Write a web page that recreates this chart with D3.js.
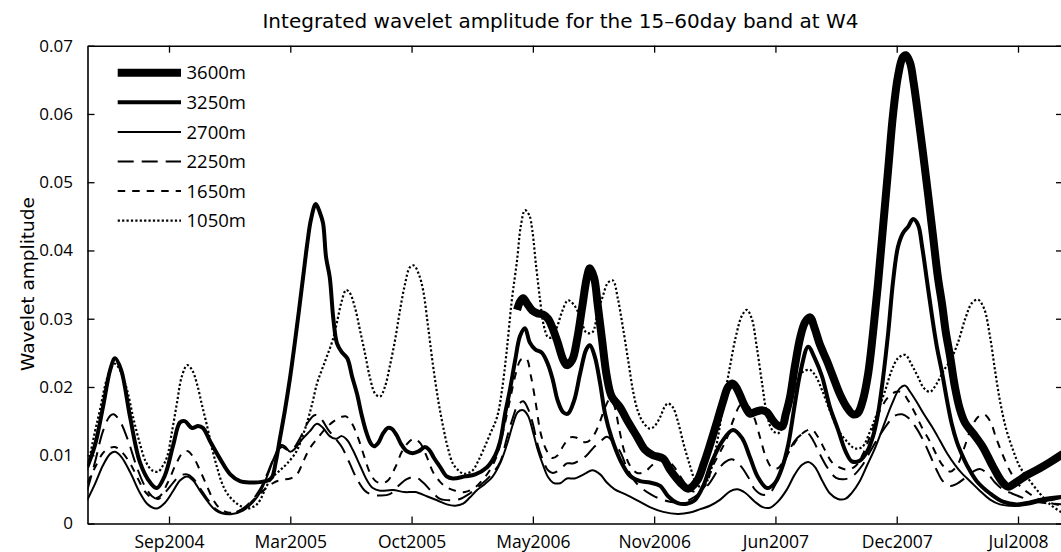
<!DOCTYPE html>
<html>
<head>
<meta charset="utf-8">
<script src="https://cdn.jsdelivr.net/npm/d3@7"></script>
<style>
  body { margin: 0; background: #fff; }
  text { font-family: "Open Sans", sans-serif; fill: #000; }
</style>
</head>
<body>
<svg id="chart" width="1061" height="552"></svg>
<script>
// Integrated wavelet amplitude (15–60 day band) at mooring W4, one series per instrument depth.
// Time axis: days since 1 Jan 2004.
const dayStart = 118.6, dayEnd = 1727.2;
const tickDays = [253, 453, 653, 853, 1053, 1253, 1453, 1653];
const tickLabels = ["Sep2004", "Mar2005", "Oct2005", "May2006", "Nov2006", "Jun2007", "Dec2007", "Jul2008"];
const yTicks = [0, 0.01, 0.02, 0.03, 0.04, 0.05, 0.06, 0.07];
const depths = ["3600m", "3250m", "2700m", "2250m", "1650m", "1050m"];

const amp3600 = [[827,0.0313],[832,0.0325],[837,0.033],[843,0.0323],[852,0.0312],[860,0.0308],[870,0.0306],[878,0.030],[886,0.0285],[894,0.0265],[903,0.024],[909,0.0232],[918,0.024],[926,0.027],[934,0.0315],[942,0.036],[947,0.0374],[954,0.036],[960,0.032],[967,0.027],[975,0.0215],[983,0.0186],[997,0.017],[1008,0.0152],[1025,0.0127],[1038,0.0108],[1051,0.010],[1068,0.0095],[1079,0.0079],[1096,0.006],[1109,0.0051],[1124,0.0063],[1135,0.0088],[1145,0.0115],[1157,0.015],[1167,0.018],[1175,0.020],[1183,0.0205],[1191,0.0195],[1201,0.0175],[1211,0.0161],[1221,0.0164],[1231,0.0166],[1239,0.0163],[1247,0.0153],[1256,0.0144],[1264,0.0142],[1270,0.016],[1277,0.0185],[1285,0.023],[1294,0.0273],[1302,0.0295],[1310,0.0302],[1318,0.0285],[1326,0.0263],[1338,0.0238],[1348,0.0215],[1359,0.019],[1371,0.017],[1381,0.016],[1389,0.0162],[1397,0.018],[1406,0.022],[1414,0.028],[1422,0.035],[1430,0.043],[1439,0.052],[1447,0.060],[1455,0.0655],[1463,0.0683],[1468,0.0686],[1475,0.0675],[1481,0.0645],[1488,0.060],[1496,0.0545],[1505,0.048],[1513,0.042],[1521,0.036],[1528,0.032],[1534,0.028],[1541,0.0245],[1549,0.020],[1557,0.0168],[1566,0.0147],[1579,0.0132],[1595,0.0112],[1612,0.0083],[1627,0.0061],[1637,0.0054],[1651,0.0061],[1668,0.0071],[1689,0.0081],[1706,0.009],[1727,0.0102]];

const amp3250 = [[118,0.0082],[131,0.0115],[144,0.017],[156,0.0225],[164,0.0242],[174,0.0225],[189,0.0155],[205,0.009],[222,0.006],[233,0.0052],[246,0.007],[260,0.0115],[271,0.0148],[279,0.015],[291,0.014],[301,0.0143],[309,0.014],[321,0.012],[337,0.0095],[354,0.0072],[370,0.0062],[387,0.006],[406,0.0061],[416,0.0063],[423,0.0068],[429,0.009],[436,0.0125],[444,0.0165],[452,0.021],[459,0.0255],[467,0.031],[474,0.036],[481,0.041],[487,0.0445],[495,0.0468],[502,0.0455],[507,0.044],[512,0.039],[518,0.0361],[524,0.030],[530,0.0264],[538,0.0251],[547,0.0242],[555,0.0215],[563,0.019],[571,0.0158],[579,0.0132],[586,0.0117],[591,0.0113],[598,0.0118],[606,0.0132],[614,0.014],[620,0.0139],[628,0.013],[636,0.0116],[645,0.0106],[655,0.0103],[665,0.0106],[675,0.0112],[682,0.0108],[690,0.0096],[700,0.0083],[711,0.0069],[721,0.0066],[741,0.0069],[758,0.0072],[777,0.0082],[791,0.010],[799,0.012],[807,0.016],[815,0.0195],[824,0.024],[832,0.0275],[840,0.0286],[848,0.0265],[857,0.0255],[868,0.025],[878,0.0233],[886,0.021],[894,0.018],[903,0.0163],[911,0.0161],[921,0.018],[931,0.022],[941,0.0255],[947,0.0261],[955,0.0245],[964,0.0205],[972,0.0161],[983,0.0125],[997,0.0093],[1013,0.007],[1030,0.0062],[1046,0.006],[1063,0.0055],[1076,0.004],[1092,0.003],[1107,0.0029],[1120,0.0034],[1134,0.0055],[1148,0.009],[1165,0.012],[1183,0.0137],[1198,0.0125],[1211,0.0097],[1224,0.0068],[1239,0.0052],[1252,0.0059],[1264,0.0082],[1274,0.0115],[1285,0.0175],[1295,0.0225],[1307,0.0259],[1318,0.0242],[1330,0.0215],[1343,0.017],[1356,0.0138],[1369,0.0105],[1379,0.0091],[1392,0.0092],[1404,0.0105],[1414,0.0128],[1422,0.016],[1430,0.021],[1439,0.028],[1447,0.0355],[1455,0.0405],[1463,0.0425],[1472,0.0435],[1480,0.0446],[1488,0.0438],[1495,0.0405],[1503,0.0355],[1511,0.0305],[1519,0.026],[1528,0.022],[1536,0.018],[1544,0.0145],[1552,0.012],[1561,0.010],[1569,0.0085],[1585,0.0062],[1607,0.0044],[1628,0.0032],[1651,0.0028],[1673,0.0031],[1697,0.0036],[1727,0.0039]];

const amp2700 = [[118,0.0034],[131,0.0058],[144,0.0085],[156,0.0102],[164,0.0105],[174,0.0098],[189,0.0075],[205,0.0045],[218,0.0028],[233,0.0022],[246,0.003],[260,0.0048],[271,0.0063],[283,0.0069],[293,0.0063],[304,0.0048],[317,0.0032],[329,0.002],[340,0.0015],[357,0.0014],[375,0.0019],[390,0.003],[403,0.0045],[416,0.0072],[428,0.010],[438,0.0115],[444,0.0113],[453,0.0105],[461,0.011],[472,0.0123],[485,0.0135],[497,0.0146],[507,0.014],[518,0.0128],[528,0.0124],[538,0.0128],[547,0.0122],[556,0.0108],[568,0.0085],[579,0.0064],[589,0.0052],[601,0.0048],[622,0.0049],[642,0.0046],[659,0.0046],[678,0.004],[695,0.0034],[711,0.0028],[725,0.0026],[738,0.0029],[749,0.0038],[761,0.0049],[774,0.0058],[786,0.0068],[799,0.0088],[810,0.0115],[820,0.0145],[828,0.0163],[837,0.0166],[845,0.0158],[853,0.0135],[861,0.0108],[870,0.0085],[878,0.0068],[886,0.006],[898,0.0059],[909,0.0066],[922,0.0066],[939,0.0073],[951,0.0078],[964,0.0072],[975,0.006],[988,0.005],[1005,0.0043],[1025,0.0034],[1046,0.0024],[1068,0.0017],[1092,0.0014],[1112,0.0016],[1129,0.0021],[1145,0.0026],[1162,0.0035],[1178,0.0047],[1190,0.005],[1203,0.0045],[1219,0.0032],[1232,0.0024],[1244,0.0023],[1257,0.0032],[1272,0.005],[1285,0.0072],[1297,0.0086],[1307,0.009],[1318,0.0083],[1330,0.0063],[1343,0.0044],[1356,0.0036],[1368,0.0036],[1379,0.0045],[1392,0.0062],[1404,0.0085],[1417,0.011],[1430,0.014],[1445,0.0175],[1458,0.0198],[1467,0.0202],[1475,0.0193],[1486,0.0178],[1498,0.016],[1511,0.0142],[1524,0.0122],[1536,0.0103],[1549,0.0086],[1561,0.0073],[1574,0.0062],[1590,0.0048],[1607,0.0035],[1623,0.0028],[1640,0.0026],[1656,0.0026],[1673,0.0028],[1689,0.0032],[1706,0.0034],[1727,0.0038]];

const amp2250 = [[118,0.0048],[131,0.009],[144,0.0135],[156,0.0158],[162,0.016],[172,0.015],[185,0.0123],[199,0.0085],[213,0.0055],[225,0.004],[235,0.0036],[246,0.0045],[260,0.006],[271,0.007],[283,0.0072],[293,0.0066],[304,0.0052],[317,0.0035],[329,0.0022],[340,0.0016],[357,0.0015],[375,0.0022],[390,0.0034],[403,0.005],[416,0.0075],[429,0.0102],[439,0.0112],[448,0.0108],[456,0.0108],[469,0.0125],[482,0.0148],[494,0.0159],[504,0.0153],[515,0.0138],[527,0.0125],[538,0.0112],[551,0.0088],[563,0.0065],[576,0.0048],[588,0.0042],[601,0.0041],[617,0.0043],[631,0.0055],[645,0.0065],[659,0.0068],[672,0.006],[687,0.0046],[700,0.0036],[716,0.0034],[733,0.0036],[749,0.0044],[766,0.0056],[782,0.0069],[799,0.009],[810,0.0125],[820,0.0155],[828,0.0173],[837,0.0179],[845,0.0168],[853,0.0146],[861,0.0115],[870,0.0092],[878,0.0078],[886,0.0074],[898,0.0079],[909,0.0088],[919,0.0088],[931,0.0093],[942,0.010],[952,0.011],[964,0.012],[975,0.0127],[985,0.012],[997,0.0105],[1008,0.0082],[1021,0.0062],[1035,0.005],[1049,0.0042],[1063,0.0036],[1079,0.0032],[1096,0.003],[1112,0.0035],[1129,0.0045],[1145,0.006],[1158,0.0078],[1170,0.009],[1181,0.0094],[1195,0.0085],[1208,0.0068],[1219,0.005],[1232,0.0042],[1244,0.0045],[1257,0.0065],[1270,0.0095],[1284,0.012],[1294,0.0129],[1305,0.0133],[1315,0.0122],[1326,0.0102],[1340,0.008],[1353,0.0067],[1368,0.0065],[1381,0.007],[1396,0.0085],[1409,0.0105],[1422,0.0125],[1437,0.0145],[1450,0.0158],[1462,0.016],[1472,0.0155],[1483,0.0143],[1495,0.0125],[1508,0.010],[1519,0.0078],[1529,0.0062],[1541,0.0055],[1552,0.0058],[1566,0.0067],[1579,0.0076],[1590,0.008],[1604,0.0072],[1615,0.006],[1628,0.005],[1643,0.0044],[1660,0.0038],[1676,0.0033],[1697,0.003],[1727,0.0028]];

const amp1650 = [[118,0.0059],[131,0.0082],[144,0.0103],[156,0.0111],[164,0.0112],[174,0.0106],[189,0.0088],[202,0.0065],[215,0.0045],[227,0.0037],[238,0.004],[251,0.006],[265,0.0088],[276,0.0104],[284,0.0106],[294,0.0096],[304,0.0078],[316,0.0054],[327,0.0033],[337,0.0022],[350,0.0016],[365,0.0017],[382,0.0026],[396,0.0038],[411,0.005],[426,0.006],[439,0.0064],[453,0.0066],[464,0.0072],[474,0.009],[485,0.011],[499,0.0126],[512,0.014],[525,0.015],[537,0.0156],[545,0.0157],[555,0.0146],[565,0.0125],[575,0.0098],[584,0.0075],[594,0.0062],[604,0.0059],[614,0.0063],[626,0.0082],[637,0.0105],[647,0.0118],[657,0.0124],[667,0.0118],[678,0.0098],[688,0.0076],[700,0.0061],[711,0.0053],[725,0.0048],[741,0.0046],[758,0.0053],[771,0.0065],[782,0.0078],[794,0.010],[804,0.0135],[815,0.018],[825,0.022],[833,0.024],[842,0.0242],[850,0.0215],[858,0.0175],[866,0.0132],[875,0.0108],[885,0.0096],[894,0.010],[904,0.0115],[914,0.0126],[924,0.0126],[934,0.012],[944,0.012],[954,0.013],[964,0.015],[972,0.017],[980,0.0182],[987,0.0173],[995,0.014],[1003,0.0108],[1013,0.0085],[1025,0.0074],[1038,0.0076],[1049,0.0085],[1063,0.0093],[1074,0.0093],[1086,0.0083],[1099,0.0065],[1112,0.005],[1124,0.0046],[1137,0.0055],[1150,0.0085],[1162,0.0105],[1173,0.0125],[1185,0.0155],[1196,0.0174],[1208,0.0172],[1218,0.0155],[1228,0.0125],[1237,0.0098],[1247,0.0082],[1257,0.0081],[1267,0.0093],[1279,0.011],[1290,0.0125],[1302,0.0135],[1313,0.0138],[1323,0.0127],[1335,0.0107],[1346,0.009],[1359,0.0082],[1373,0.0079],[1386,0.0085],[1399,0.0105],[1412,0.0135],[1425,0.0165],[1439,0.0185],[1452,0.0193],[1462,0.0192],[1472,0.018],[1483,0.0162],[1495,0.014],[1508,0.012],[1519,0.010],[1529,0.0085],[1541,0.0076],[1552,0.0084],[1564,0.011],[1575,0.0138],[1587,0.0156],[1597,0.016],[1607,0.015],[1617,0.0125],[1628,0.010],[1641,0.0075],[1656,0.0055],[1673,0.0043],[1689,0.0035],[1706,0.003],[1727,0.0026]];

const amp1050 = [[118,0.0078],[131,0.0135],[139,0.0166],[150,0.021],[159,0.023],[164,0.0234],[172,0.0225],[184,0.0195],[194,0.0155],[205,0.0117],[215,0.009],[225,0.0078],[235,0.0076],[243,0.0085],[250,0.0098],[258,0.0135],[266,0.0176],[274,0.0215],[283,0.0232],[291,0.0225],[299,0.0205],[307,0.0175],[316,0.0142],[324,0.011],[332,0.0083],[340,0.006],[349,0.0044],[365,0.0029],[382,0.0022],[395,0.0026],[403,0.0034],[414,0.0055],[424,0.0068],[436,0.0078],[448,0.0088],[464,0.0107],[472,0.0125],[480,0.0146],[489,0.0175],[497,0.0205],[505,0.0225],[513,0.0244],[523,0.0269],[530,0.0295],[537,0.0323],[545,0.0342],[551,0.0338],[560,0.0315],[568,0.0283],[576,0.025],[584,0.0215],[593,0.019],[601,0.0186],[609,0.020],[617,0.023],[626,0.027],[634,0.0313],[642,0.035],[650,0.0375],[657,0.0378],[665,0.0365],[672,0.0342],[680,0.029],[688,0.0234],[697,0.018],[705,0.0142],[713,0.011],[721,0.0088],[730,0.0078],[738,0.0073],[746,0.0074],[754,0.0078],[762,0.009],[771,0.0107],[782,0.013],[794,0.0156],[802,0.0195],[810,0.0254],[818,0.0325],[827,0.0386],[833,0.0435],[840,0.0459],[847,0.0452],[852,0.043],[858,0.038],[865,0.0327],[871,0.029],[878,0.0273],[885,0.0273],[893,0.0288],[901,0.031],[911,0.0327],[921,0.032],[931,0.0303],[941,0.028],[951,0.028],[960,0.031],[968,0.0332],[977,0.0353],[985,0.0356],[993,0.033],[1001,0.029],[1010,0.024],[1018,0.0195],[1026,0.0165],[1035,0.0148],[1046,0.0139],[1054,0.0143],[1063,0.0156],[1071,0.0172],[1076,0.0176],[1084,0.017],[1092,0.015],[1102,0.0115],[1112,0.0085],[1122,0.006],[1132,0.0052],[1142,0.0065],[1150,0.009],[1158,0.0125],[1168,0.018],[1178,0.023],[1188,0.0275],[1198,0.0305],[1206,0.0313],[1214,0.030],[1222,0.026],[1231,0.0205],[1239,0.016],[1247,0.0138],[1257,0.0132],[1267,0.0145],[1277,0.0175],[1288,0.0205],[1298,0.0222],[1310,0.0225],[1320,0.0215],[1330,0.0195],[1343,0.0165],[1356,0.0138],[1371,0.012],[1384,0.011],[1396,0.0112],[1409,0.0135],[1420,0.016],[1434,0.0195],[1445,0.0225],[1455,0.0242],[1467,0.0247],[1478,0.0232],[1488,0.0215],[1498,0.0198],[1508,0.0193],[1519,0.0205],[1531,0.0225],[1541,0.0238],[1554,0.0265],[1566,0.030],[1577,0.0323],[1587,0.0328],[1597,0.0315],[1607,0.0273],[1615,0.0225],[1623,0.0181],[1633,0.014],[1645,0.0107],[1656,0.0083],[1668,0.0068],[1689,0.0044],[1706,0.0028],[1727,0.0015]];

const seriesValues = [amp3600, amp3250, amp2700, amp2250, amp1650, amp1050];

// Line styling per depth (same order as depths)
const lineWidths = [8, 4, 2, 2, 2, 2.2];
const lineDashes = [null, null, null, "16,8", "7.5,7", "2.2,2.2"];

const plot = { left: 87.5, right: 1063, top: 45.7, bottom: 523.5 };

const svg = d3.select("#chart");

const x = d3.scaleLinear().domain([dayStart, dayEnd]).range([plot.left, plot.right]);
const y = d3.scaleLinear().domain([0, 0.07]).range([plot.bottom, plot.top]);

svg.append("defs").append("clipPath").attr("id", "plotClip")
  .append("rect")
  .attr("x", plot.left).attr("y", plot.top)
  .attr("width", plot.right - plot.left).attr("height", plot.bottom - plot.top);

// Series
const line = d3.line()
  .x(d => x(d[0]))
  .y(d => y(d[1]))
  .curve(d3.curveCatmullRom.alpha(0.5));

const drawOrder = [5, 4, 3, 2, 1, 0];
const lines = svg.append("g").attr("clip-path", "url(#plotClip)");
drawOrder.forEach(i => {
  lines.append("path")
    .datum(seriesValues[i])
    .attr("d", line)
    .attr("fill", "none")
    .attr("stroke", "#000")
    .attr("stroke-width", lineWidths[i])
    .attr("stroke-linejoin", "round")
    .attr("stroke-linecap", "butt")
    .attr("stroke-dasharray", lineDashes[i]);
});

// Axes (ticks point inward on all four sides)
const axisStroke = 1.6;
const fmtY = d => d === 0 ? "0" : d3.format(".2f")(d);

const gBottom = svg.append("g").attr("transform", `translate(0,${plot.bottom})`)
  .call(d3.axisBottom(x).tickValues(tickDays).tickFormat((d, i) => tickLabels[i])
    .tickSizeInner(-7).tickSizeOuter(0).tickPadding(12));
const gTop = svg.append("g").attr("transform", `translate(0,${plot.top})`)
  .call(d3.axisTop(x).tickValues(tickDays).tickFormat("").tickSizeInner(-7).tickSizeOuter(0));
const gLeft = svg.append("g").attr("transform", `translate(${plot.left},0)`)
  .call(d3.axisLeft(y).tickValues(yTicks).tickFormat(fmtY)
    .tickSizeInner(-7).tickSizeOuter(0).tickPadding(14.5));
const gRight = svg.append("g").attr("transform", `translate(${plot.right},0)`)
  .call(d3.axisRight(y).tickValues(yTicks).tickFormat("").tickSizeInner(-7).tickSizeOuter(0));

[gBottom, gTop, gLeft, gRight].forEach(g => {
  g.select(".domain").attr("stroke", "#000").attr("stroke-width", axisStroke);
  g.selectAll(".tick line").attr("stroke", "#000").attr("stroke-width", 1.3);
  g.selectAll("text").attr("fill", "#000").style("font-family", '"Open Sans", sans-serif');
});
gBottom.selectAll("text").style("font-size", "17.5px");
gLeft.selectAll("text").style("font-size", "17px");

// Title and axis label
svg.append("text")
  .attr("x", 560.5).attr("y", 28)
  .attr("text-anchor", "middle")
  .style("font-family", '"DejaVu Sans", sans-serif')
  .style("font-size", "20px")
  .text("Integrated wavelet amplitude for the 15\u201360day band at W4");

svg.append("text")
  .attr("transform", "translate(34,284) rotate(-90)")
  .attr("text-anchor", "middle")
  .style("font-family", '"DejaVu Sans", sans-serif')
  .style("font-size", "18.5px")
  .text("Wavelet amplitude");

// Legend
const legend = svg.append("g");
depths.forEach((name, i) => {
  const ly = 72.7 + i * 29.6;
  legend.append("line")
    .attr("x1", 117.7).attr("x2", 181)
    .attr("y1", ly).attr("y2", ly)
    .attr("stroke", "#000")
    .attr("stroke-width", lineWidths[i])
    .attr("stroke-dasharray", lineDashes[i]);
  legend.append("text")
    .attr("x", 186.5).attr("y", ly)
    .attr("dy", "0.36em")
    .style("font-size", "18.5px")
    .text(name);
});
</script>
</body>
</html>
